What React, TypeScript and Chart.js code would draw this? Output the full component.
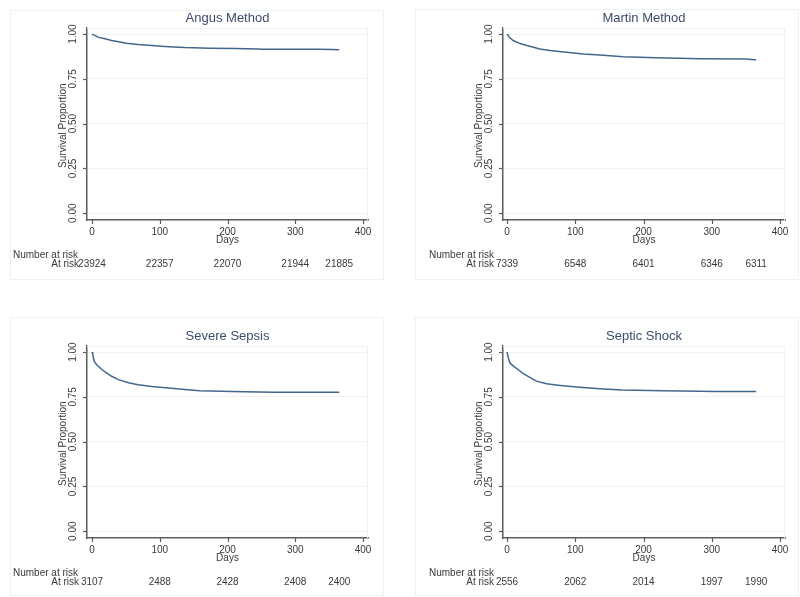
import React, { useEffect, useRef } from "react";
import { Chart, registerables } from "chart.js";

Chart.register(...registerables);

// ---------- data ----------
const panelTitles = ["Angus Method", "Martin Method", "Severe Sepsis", "Septic Shock"];

const angusDays = [0, 9, 19, 29, 39, 51, 68, 88, 113, 137, 174, 211, 246, 248, 285, 334, 354, 365];
const angusSurv = [1.0, 0.983, 0.974, 0.964, 0.957, 0.949, 0.942, 0.936, 0.93, 0.925, 0.921, 0.919, 0.917, 0.915, 0.915, 0.915, 0.914, 0.912];

const martinDays = [0, 1, 4, 9, 19, 29, 39, 48, 63, 87, 112, 136, 170, 219, 283, 349, 363, 365];
const martinSurv = [1.0, 0.995, 0.979, 0.964, 0.947, 0.936, 0.927, 0.917, 0.908, 0.898, 0.889, 0.883, 0.874, 0.868, 0.863, 0.861, 0.857, 0.857];

const severeDays = [0, 1, 1.5, 3.4, 7, 14, 22, 29, 39, 54, 68, 88, 113, 137, 159, 206, 268, 365];
const severeSurv = [1.0, 0.99, 0.979, 0.947, 0.929, 0.904, 0.883, 0.865, 0.846, 0.829, 0.818, 0.808, 0.799, 0.791, 0.784, 0.78, 0.776, 0.776];

const shockDays = [0, 2, 4.4, 9, 17, 24, 34, 43, 58, 78, 102, 136, 168, 229, 307, 365];
const shockSurv = [1.0, 0.966, 0.938, 0.923, 0.9, 0.88, 0.857, 0.838, 0.823, 0.814, 0.805, 0.795, 0.788, 0.784, 0.78, 0.78];

const riskTimes = [0, 100, 200, 300, 365];
const angusRisk = [23924, 22357, 22070, 21944, 21885];
const martinRisk = [7339, 6548, 6401, 6346, 6311];
const severeRisk = [3107, 2488, 2428, 2408, 2400];
const shockRisk = [2556, 2062, 2014, 1997, 1990];

const xTicks = [0, 100, 200, 300, 400];
const yTicks = [0, 0.25, 0.5, 0.75, 1];
const yTickLabels = ["0.00", "0.25", "0.50", "0.75", "1.00"];

const xAxisTitle = "Days";
const yAxisTitle = "Survival Proportion";
const riskHeader = "Number at risk";
const riskRowLabel = "At risk";

// ---------- styles / layout ----------
const FONT = '"Liberation Sans", Arial, Helvetica, sans-serif';
const LINE_COLOR = "#45668c";
const TEXT_COLOR = "#3a3a3a";
const TITLE_COLOR = "#3e4c6c";
const AXIS_COLOR = "#5c5c5c";
const GRID_COLOR = "#f0f3f3";
const BOX_COLOR = "#edf2f2";

type PanelCfg = {
  title: string;
  days: number[];
  surv: number[];
  risk: number[];
  left: number;
  top: number;
  w: number;
  h: number;
  pad: { left: number; right: number; top: number; bottom: number };
  xMin: number;
  xMax: number;
  box: [number, number, number, number];
};

const panels: PanelCfg[] = [
  {
    title: panelTitles[0], days: angusDays, surv: angusSurv, risk: angusRisk,
    left: 0, top: 0, w: 400, h: 300,
    pad: { left: 87, right: 32, top: 28, bottom: 80 },
    xMin: -7.4, xMax: 407.4, box: [10, 10, 383, 279],
  },
  {
    title: panelTitles[1], days: martinDays, surv: martinSurv, risk: martinRisk,
    left: 400, top: 0, w: 400, h: 300,
    pad: { left: 103, right: 15, top: 28, bottom: 80 },
    xMin: -5.9, xMax: 407.3, box: [15, 9, 398, 279],
  },
  {
    title: panelTitles[2], days: severeDays, surv: severeSurv, risk: severeRisk,
    left: 0, top: 300, w: 400, h: 297,
    pad: { left: 87, right: 32, top: 46, bottom: 59 },
    xMin: -7.4, xMax: 407.4, box: [10, 17, 383, 295],
  },
  {
    title: panelTitles[3], days: shockDays, surv: shockSurv, risk: shockRisk,
    left: 400, top: 300, w: 400, h: 297,
    pad: { left: 103, right: 15, top: 46, bottom: 59 },
    xMin: -5.9, xMax: 407.3, box: [15, 17, 398, 295],
  },
];

function line(ctx: CanvasRenderingContext2D, x1: number, y1: number, x2: number, y2: number) {
  ctx.beginPath();
  ctx.moveTo(x1, y1);
  ctx.lineTo(x2, y2);
  ctx.stroke();
}

function Panel({ cfg }: { cfg: PanelCfg }) {
  const ref = useRef<HTMLCanvasElement>(null);

  useEffect(() => {
    const canvas = ref.current!;
    const decor = {
      id: "decor",
      beforeDatasetsDraw(chart: any) {
        const { ctx, chartArea: ca } = chart;
        ctx.save();
        ctx.lineWidth = 1;
        ctx.strokeStyle = BOX_COLOR;
        const [bx1, by1, bx2, by2] = cfg.box;
        ctx.strokeRect(bx1 + 0.5, by1 + 0.5, bx2 - bx1, by2 - by1);
        ctx.strokeStyle = GRID_COLOR;
        line(ctx, ca.left, ca.top + 0.5, ca.right, ca.top + 0.5);
        line(ctx, ca.right - 0.5, ca.top, ca.right - 0.5, ca.bottom);
        ctx.restore();
      },
      afterDraw(chart: any) {
        const { ctx, chartArea: ca, scales } = chart;
        const xs = scales.x;
        const ys = scales.y;
        ctx.save();
        // tick marks
        ctx.strokeStyle = AXIS_COLOR;
        ctx.lineWidth = 1.2;
        yTicks.forEach((v) => {
          const py = Math.round(ys.getPixelForValue(v)) + 0.5;
          line(ctx, ca.left - 4, py, ca.left, py);
        });
        xTicks.forEach((v) => {
          const px = Math.round(xs.getPixelForValue(v)) + 0.5;
          line(ctx, px, ca.bottom, px, ca.bottom + 4);
        });
        // y tick labels (rotated)
        ctx.fillStyle = TEXT_COLOR;
        ctx.font = `10px ${FONT}`;
        ctx.textAlign = "center";
        ctx.textBaseline = "middle";
        yTicks.forEach((v, i) => {
          const py = ys.getPixelForValue(v);
          ctx.save();
          ctx.translate(ca.left - 14, py);
          ctx.rotate(-Math.PI / 2);
          ctx.fillText(yTickLabels[i], 0, 0);
          ctx.restore();
        });
        // y axis title
        ctx.save();
        ctx.translate(ca.left - 24, (ys.getPixelForValue(0) + ys.getPixelForValue(1)) / 2 + 2);
        ctx.rotate(-Math.PI / 2);
        ctx.fillText(yAxisTitle, 0, 0);
        ctx.restore();
        // x tick labels
        xTicks.forEach((v) => {
          ctx.fillText(String(v), xs.getPixelForValue(v), ca.bottom + 12);
        });
        const cx = (ca.left + ca.right) / 2;
        ctx.fillText(xAxisTitle, cx, ca.bottom + 20);
        // title
        ctx.fillStyle = TITLE_COLOR;
        ctx.font = `13px ${FONT}`;
        ctx.fillText(cfg.title, cx, ca.top - 10);
        // risk table
        ctx.fillStyle = TEXT_COLOR;
        ctx.font = `10px ${FONT}`;
        ctx.textAlign = "left";
        ctx.fillText(riskHeader, ca.left - 74, ca.bottom + 35.5);
        const x0 = xs.getPixelForValue(0);
        ctx.textAlign = "right";
        ctx.fillText(riskRowLabel, x0 - 13, ca.bottom + 44.5);
        ctx.textAlign = "center";
        riskTimes.forEach((t, i) => {
          ctx.fillText(String(cfg.risk[i]), xs.getPixelForValue(t), ca.bottom + 44.5);
        });
        ctx.restore();
      },
    };

    const chart = new Chart(canvas, {
      type: "line",
      data: {
        datasets: [
          {
            data: cfg.days.map((d, i) => ({ x: d, y: cfg.surv[i] })),
            borderColor: LINE_COLOR,
            borderWidth: 1.5,
            pointRadius: 0,
            tension: 0,
            fill: false,
          },
        ],
      },
      options: {
        animation: false,
        responsive: false,
        devicePixelRatio: 1,
        layout: { padding: cfg.pad },
        plugins: { legend: { display: false }, tooltip: { enabled: false }, title: { display: false } },
        scales: {
          x: {
            type: "linear",
            min: cfg.xMin,
            max: cfg.xMax,
            afterBuildTicks: (s: any) => {
              s.ticks = xTicks.map((v) => ({ value: v }));
            },
            afterFit: (s: any) => {
              s.height = 0;
            },
            ticks: { display: false },
            grid: { display: false, drawTicks: false },
            border: { display: true, color: AXIS_COLOR, width: 1.5 },
          },
          y: {
            type: "linear",
            min: -0.038,
            max: 1.034,
            afterBuildTicks: (s: any) => {
              s.ticks = yTicks.map((v) => ({ value: v }));
            },
            afterFit: (s: any) => {
              s.width = 0;
            },
            ticks: { display: false },
            grid: { display: true, drawTicks: false, color: GRID_COLOR, lineWidth: 1 },
            border: { display: true, color: AXIS_COLOR, width: 1.5 },
          },
        },
      },
      plugins: [decor],
    } as any);
    return () => chart.destroy();
  }, [cfg]);

  return (
    <canvas
      ref={ref}
      width={cfg.w}
      height={cfg.h}
      style={{ position: "absolute", left: cfg.left, top: cfg.top, width: cfg.w, height: cfg.h }}
    />
  );
}

export default function App() {
  return (
    <div style={{ position: "absolute", left: 0, top: 0, width: 800, height: 597, background: "#ffffff" }}>
      {panels.map((p) => (
        <Panel key={p.title} cfg={p} />
      ))}
    </div>
  );
}
